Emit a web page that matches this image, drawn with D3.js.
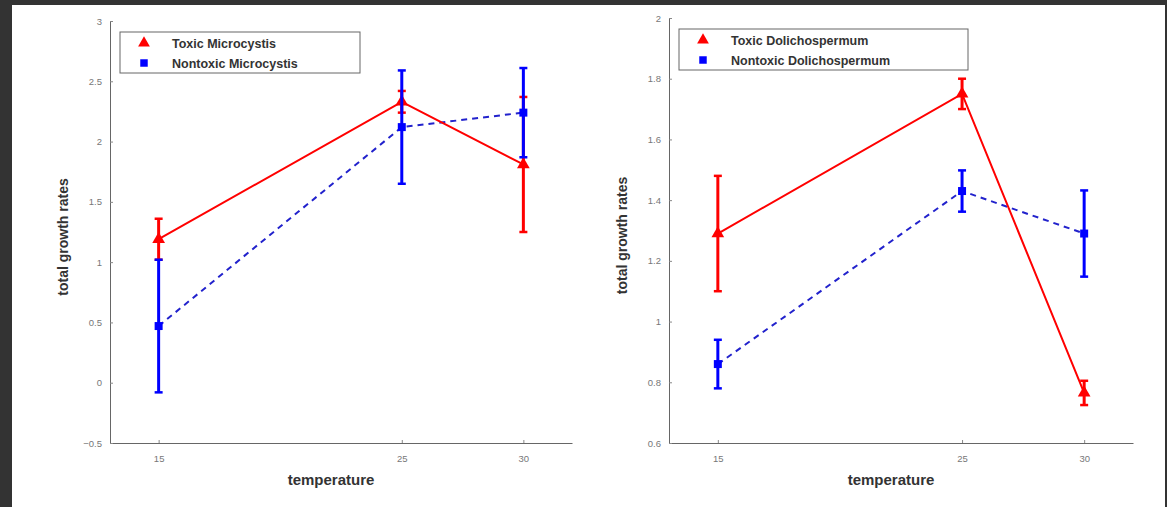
<!DOCTYPE html>
<html>
<head>
<meta charset="utf-8">
<script src="https://cdn.jsdelivr.net/npm/d3@7"></script>
<style>
  html, body { margin: 0; padding: 0; background: #333; }
  .chart { width: 1167px; height: 507px; }
  .tick text { fill: #777; font-size: 9.5px; font-family: "Liberation Sans", Arial, sans-serif; }
  .tick line { stroke: #888; }
  .domain { stroke: #666; }
</style>
</head>
<body>
<div class="chart"></div>
<script>
'use strict';

const temps = [15, 25, 30];
const xTicks = [15, 25, 30];

// left panel: Microcystis
const toxicMicro = [1.19, 2.33, 1.81];
const toxicMicroErr = [0.17, 0.09, 0.56];
const nontoxicMicro = [0.47, 2.12, 2.24];
const nontoxicMicroErr = [0.55, 0.47, 0.37];
const leftYTicks = [-0.5, 0, 0.5, 1, 1.5, 2, 2.5, 3];

// right panel: Dolichospermum
const toxicDoli = [1.29, 1.75, 0.765];
const toxicDoliErr = [0.19, 0.05, 0.04];
const nontoxicDoli = [0.86, 1.43, 1.29];
const nontoxicDoliErr = [0.08, 0.068, 0.142];
const rightYTicks = [0.6, 0.8, 1, 1.2, 1.4, 1.6, 1.8, 2];

const WIDTH = 1167;
const HEIGHT = 507;

const svg = d3.select('.chart')
  .append('svg')
    .attr('width', WIDTH)
    .attr('height', HEIGHT);

// white page with dark frame on the top, left and right
svg.append('rect')
  .attr('x', 12).attr('y', 5)
  .attr('width', 1153).attr('height', HEIGHT - 5)
  .attr('fill', '#fff');

function panel(opts) {
  const x = d3.scaleLinear().domain([13, 32]).range([opts.left, opts.right]);
  const y = d3.scaleLinear().domain(opts.yDomain).range([opts.bottom, opts.top]);

  const g = svg.append('g');

  g.append('g')
    .attr('transform', `translate(0,${opts.bottom})`)
    .call(d3.axisBottom(x).tickValues(xTicks).tickSizeInner(-3).tickSizeOuter(0).tickPadding(10))
    .call(a => a.selectAll('.tick text').attr('dy', '0.9em'));

  g.append('g')
    .attr('transform', `translate(${opts.left},0)`)
    .call(d3.axisLeft(y).tickValues(opts.yTicks).tickSizeInner(-3).tickSizeOuter(0).tickPadding(8)
      .tickFormat(d => d3.format('')(d)));

  g.selectAll('.domain').attr('stroke', '#666');

  const series = [
    {vals: opts.tox, err: opts.toxErr, color: '#f00', dash: null, shape: d3.symbolTriangle, size: 70},
    {vals: opts.non, err: opts.nonErr, color: '#00f', dash: '6,5', shape: d3.symbolSquare, size: 64}
  ];

  // lines first
  series.slice().reverse().forEach(s => {
    const pts = temps.map((t, i) => [t, s.vals[i]]);
    g.append('path')
      .datum(pts)
      .attr('fill', 'none')
      .attr('stroke', s.dash ? '#2222cc' : s.color)
      .attr('stroke-width', 2)
      .attr('stroke-dasharray', s.dash)
      .attr('d', d3.line().x(d => x(d[0])).y(d => y(d[1])));
  });

  series.forEach(s => {
    const eb = g.append('g');
    temps.forEach((t, i) => {
      const cx = x(t);
      const lo = y(s.vals[i] - s.err[i]);
      const hi = y(s.vals[i] + s.err[i]);
      eb.append('line').attr('x1', cx).attr('x2', cx).attr('y1', lo).attr('y2', hi)
        .attr('stroke', s.color).attr('stroke-width', 3);
      [lo, hi].forEach(yy => {
        eb.append('line').attr('x1', cx - 4).attr('x2', cx + 4).attr('y1', yy).attr('y2', yy)
          .attr('stroke', s.color).attr('stroke-width', 2.5);
      });
    });
    g.append('g').selectAll('path')
      .data(temps)
      .enter().append('path')
        .attr('transform', (d, i) => `translate(${x(d)},${y(s.vals[i])})`)
        .attr('d', d3.symbol().type(s.shape).size(s.size))
        .attr('fill', s.color);
  });

  // legend
  const lg = g.append('g');
  lg.append('rect')
    .attr('x', opts.legend.x).attr('y', opts.legend.y)
    .attr('width', opts.legend.w).attr('height', 41)
    .attr('fill', '#fff').attr('stroke', '#666').attr('stroke-width', 1);
  opts.legend.labels.forEach((lab, i) => {
    const s = series[i];
    const yy = opts.legend.y + 11 + i * 20;
    lg.append('path')
      .attr('transform', `translate(${opts.legend.x + 24},${yy})`)
      .attr('d', d3.symbol().type(s.shape).size(i === 0 ? 60 : 56))
      .attr('fill', s.color);
    lg.append('text')
      .attr('x', opts.legend.x + 52)
      .attr('y', yy + 4.5)
      .attr('font-family', '"Liberation Sans", Arial, sans-serif')
      .attr('font-weight', 'bold')
      .attr('font-size', 12.5)
      .attr('fill', '#333')
      .text(lab);
  });

  // axis titles
  g.append('text')
    .attr('transform', `translate(${opts.left - 42},${(opts.top + opts.bottom) / 2 + 5}) rotate(-90)`)
    .attr('text-anchor', 'middle')
    .attr('font-family', '"Liberation Sans", Arial, sans-serif')
    .attr('font-weight', 'bold')
    .attr('font-size', 14)
    .attr('fill', '#333')
    .text('total growth rates');

  g.append('text')
    .attr('x', (opts.left + opts.right) / 2 - 10)
    .attr('y', 485)
    .attr('text-anchor', 'middle')
    .attr('font-family', '"Liberation Sans", Arial, sans-serif')
    .attr('font-weight', 'bold')
    .attr('font-size', 15)
    .attr('fill', '#333')
    .text('temperature');
}

panel({
  left: 110, right: 572, top: 21, bottom: 443,
  yDomain: [-0.5, 3], yTicks: leftYTicks,
  tox: toxicMicro, toxErr: toxicMicroErr,
  non: nontoxicMicro, nonErr: nontoxicMicroErr,
  legend: {x: 120, y: 32, w: 240, labels: ['Toxic Microcystis', 'Nontoxic Microcystis']}
});

panel({
  left: 669, right: 1133, top: 18, bottom: 443,
  yDomain: [0.6, 2], yTicks: rightYTicks,
  tox: toxicDoli, toxErr: toxicDoliErr,
  non: nontoxicDoli, nonErr: nontoxicDoliErr,
  legend: {x: 679, y: 29, w: 289, labels: ['Toxic Dolichospermum', 'Nontoxic Dolichospermum']}
});
</script>
</body>
</html>
